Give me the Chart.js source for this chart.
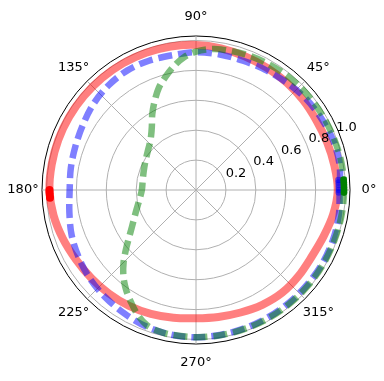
<!DOCTYPE html>
<html><head><meta charset="utf-8">
<script src="https://cdn.jsdelivr.net/npm/chart.js@4/dist/chart.umd.min.js"></script>
<style>html,body{margin:0;padding:0;background:#fff}#wrap{width:384px;height:381px}</style>
</head><body><div id="wrap"><canvas id="c" width="384" height="381"></canvas></div>
<script>
// ---- axis ticks ----
const THETA_TICKS = [0, 45, 90, 135, 180, 225, 270, 315];
const THETA_TICK_LABELS = ['0°', '45°', '90°', '135°', '180°', '225°', '270°', '315°'];
const R_TICKS = [0.2, 0.4, 0.6, 0.8, 1.0];
const R_TICK_LABELS = ['0.2', '0.4', '0.6', '0.8', '1.0'];
const R_MAX = 1.03;
const R_LABEL_ANGLE = 22.5;

// ---- red solid curve (angle in degrees, radius) ----
const RED_ANGLES = [0,10,20,30,40,50,60,70,80,90,100,110,120,130,140,150,160,170,180,190,200,210,220,230,240,250,260,270,280,290,300,310,320,330,340,350];
const RED_R = [0.948,0.94,0.933,0.93,0.935,0.94,0.945,0.952,0.962,0.97,0.975,0.977,0.978,0.978,0.978,0.979,0.98,0.98,0.98,0.968,0.948,0.928,0.915,0.905,0.895,0.882,0.868,0.858,0.862,0.872,0.887,0.897,0.895,0.893,0.908,0.932];

// ---- blue dashed curve ----
const BLUE_ANGLES = [0,10,20,30,40,50,60,70,80,90,100,110,120,130,140,150,160,170,180,190,200,210,220,230,240,250,260,270,280,290,300,310,320,330,340,350];
const BLUE_R = [0.96,0.975,0.975,0.965,0.955,0.94,0.928,0.92,0.92,0.922,0.915,0.92,0.922,0.912,0.895,0.873,0.858,0.85,0.845,0.86,0.885,0.905,0.925,0.94,0.955,0.972,0.982,0.985,0.983,0.98,0.978,0.977,0.976,0.977,0.975,0.97];

// ---- green dashed curve ----
const GREEN_ANGLES = [0,10,20,30,40,50,60,70,80,85,90,95,100,105,110,115,120,125,130,135,140,150,160,170,180,190,200,210,215,220,225,230,235,240,245,250,255,260,270,280,290,300,310,320,330,340,350];
const GREEN_R = [0.99,0.99,0.985,0.982,0.98,0.978,0.972,0.965,0.955,0.945,0.925,0.893,0.843,0.785,0.727,0.655,0.585,0.515,0.468,0.438,0.418,0.39,0.372,0.362,0.362,0.385,0.428,0.495,0.545,0.61,0.685,0.755,0.815,0.868,0.922,0.962,0.976,0.982,0.985,0.985,0.985,0.985,0.985,0.985,0.985,0.985,0.988];

// ---- end markers ----
const RED_MARK_ANGLES = [180, 181, 182, 183];
const RED_MARK_R = [0.98, 0.98, 0.979, 0.978];
const BLUE_MARK_ANGLES = [359, 0, 1, 2, 3, 4];
const BLUE_MARK_R = [0.955, 0.955, 0.955, 0.955, 0.955, 0.955];
const GREEN_MARK_ANGLES = [359, 0, 1, 2, 3, 4];
const GREEN_MARK_R = [0.99, 0.99, 0.99, 0.99, 0.99, 0.99];

// ---- build library structures ----
const N = 360;
function idx(theta) { return ((360 - theta) % 360 + 360) % 360; }
function series(angles, values) {
  const a = new Array(N).fill(null);
  angles.forEach((t, k) => { a[idx(t)] = values[k]; });
  return a;
}
const labels = Array.from({length: N}, (_, i) => String((360 - i) % 360));

function lineDs(name, angles, values, color, width, dash) {
  return { label: name, data: series(angles, values), borderColor: color, backgroundColor: 'transparent',
    borderWidth: width, borderDash: dash, borderCapStyle: 'butt', fill: false, tension: 0.33, spanGaps: true,
    pointRadius: 0, pointHoverRadius: 0 };
}
function markDs(name, angles, values, color, radius) {
  return { label: name, data: series(angles, values), showLine: false, borderWidth: 0, fill: false,
    backgroundColor: 'transparent', borderColor: 'transparent',
    pointRadius: radius, pointHoverRadius: radius, pointBackgroundColor: color, pointBorderWidth: 0, pointStyle: 'circle' };
}

const polarText = {
  id: 'polarText',
  afterDatasetsDraw(chart) {
    const s = chart.scales.r, ctx = chart.ctx;
    ctx.save();
    ctx.fillStyle = '#000';
    ctx.font = '13px "DejaVu Sans"';
    ctx.textAlign = 'center'; ctx.textBaseline = 'middle';
    THETA_TICKS.forEach((t, k) => {
      const p = s.getPointPosition(idx(t), s.drawingArea + 19);
      ctx.fillText(THETA_TICK_LABELS[k], p.x, p.y);
    });
    ctx.textAlign = 'left'; ctx.textBaseline = 'alphabetic';
    R_TICKS.forEach((v, k) => {
      const p = s.getPointPosition(N - R_LABEL_ANGLE, s.getDistanceFromCenterForValue(v));
      ctx.fillText(R_TICK_LABELS[k], p.x + 2, p.y - 2);
    });
    ctx.restore();
  }
};

new Chart(document.getElementById('c'), {
  type: 'radar',
  data: {
    labels: labels,
    datasets: [
      markDs('green markers', GREEN_MARK_ANGLES, GREEN_MARK_R, '#008000', 3.3),
      lineDs('green', GREEN_ANGLES, GREEN_R, 'rgba(0,128,0,0.5)', 6.5, [14, 6]),
      markDs('blue markers', BLUE_MARK_ANGLES, BLUE_MARK_R, 'rgba(0,0,255,0.5)', 3.3),
      lineDs('blue', BLUE_ANGLES, BLUE_R, 'rgba(0,0,255,0.5)', 6.5, [14, 6]),
      markDs('red markers', RED_MARK_ANGLES, RED_MARK_R, '#ff0000', 4),
      lineDs('red', RED_ANGLES, RED_R, 'rgba(255,0,0,0.5)', 8, [])
    ]
  },
  options: {
    responsive: false,
    devicePixelRatio: 1,
    animation: false,
    layout: { padding: { left: 42, top: 36, right: 34, bottom: 37 } },
    plugins: { legend: { display: false }, tooltip: { enabled: false } },
    scales: {
      r: {
        min: 0, max: R_MAX, startAngle: 90,
        afterBuildTicks: (sc) => { sc.ticks = [0, ...R_TICKS, R_MAX].map(v => ({ value: v })); },
        ticks: { display: false },
        pointLabels: { display: false },
        grid: { circular: true, lineWidth: 1,
          color: (c) => (c.tick && c.tick.value >= R_MAX - 1e-9) ? '#000000' : '#b0b0b0' },
        angleLines: { display: true, color: '#b0b0b0', lineWidth: (c) => (c.index % 45 === 0 ? 1 : 0) }
      }
    }
  },
  plugins: [polarText]
});
</script>
</body></html>
